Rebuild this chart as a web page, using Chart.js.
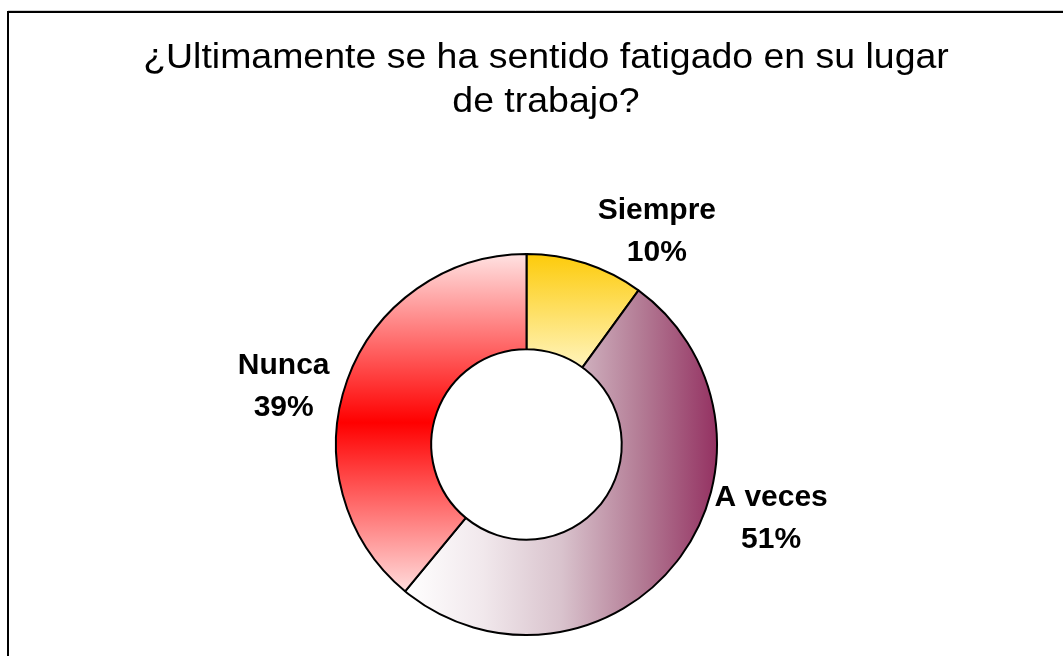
<!DOCTYPE html>
<html>
<head>
<meta charset="utf-8">
<script src="https://cdn.jsdelivr.net/npm/chart.js@4/dist/chart.umd.min.js"></script>
<style>
  html, body { margin: 0; padding: 0; background: #ffffff; }
  #wrap { width: 1063px; height: 656px; position: relative; }
</style>
</head>
<body>
<div id="wrap"><canvas id="c" width="1063" height="656"></canvas></div>
<script>
// ---- data ----
const titleLines = ['¿Ultimamente se ha sentido fatigado en su lugar', 'de trabajo?'];
const categories = ['Siempre', 'A veces', 'Nunca'];
const values = [10, 51, 39];
const percentLabels = ['10%', '51%', '39%'];

// ---- styling ----
const gradientStops = [
  { dir: 'v', stops: [[0, '#FDCB0A'], [1, '#FFF4BC']] },
  { dir: 'h', stops: [[0, '#FFFFFF'], [0.25, '#F1E8EC'], [0.5, '#D9C3CD'], [0.75, '#B47D96'], [1, '#943262']] },
  { dir: 'v', stops: [[0, '#FFE2E2'], [0.5, '#FF0000'], [1, '#FFDCDC']] }
];
const labelNudgeDeg = [13.5, -21, -6.5];
const labelGap = [59, 65, 59];

function sliceAngles(i) {
  const total = values.reduce((a, b) => a + b, 0);
  let start = -Math.PI / 2;
  for (let k = 0; k < i; k++) start += values[k] / total * Math.PI * 2;
  const end = start + values[i] / total * Math.PI * 2;
  return [start, end];
}

function sliceGradient(ctx) {
  const chart = ctx.chart;
  const area = chart.chartArea;
  const i = ctx.dataIndex;
  const spec = gradientStops[i];
  if (!area) return spec.stops[0][1];
  const ctrl = chart.getDatasetMeta(0).controller;
  const R = ctrl.outerRadius || Math.min(area.width, area.height) / 2;
  const r = ctrl.innerRadius || R / 2;
  const cx = (area.left + area.right) / 2;
  const cy = (area.top + area.bottom) / 2;
  const [a0, a1] = sliceAngles(i);
  let minX = Infinity, maxX = -Infinity, minY = Infinity, maxY = -Infinity;
  for (let s = 0; s <= 200; s++) {
    const a = a0 + (a1 - a0) * s / 200;
    for (const rad of [R, r]) {
      const x = cx + rad * Math.cos(a), y = cy + rad * Math.sin(a);
      minX = Math.min(minX, x); maxX = Math.max(maxX, x);
      minY = Math.min(minY, y); maxY = Math.max(maxY, y);
    }
  }
  const g = spec.dir === 'v'
    ? chart.ctx.createLinearGradient(0, minY, 0, maxY)
    : chart.ctx.createLinearGradient(minX, 0, maxX, 0);
  spec.stops.forEach(([o, c]) => g.addColorStop(o, c));
  return g;
}

const framePlugin = {
  id: 'frameAndTitle',
  beforeDraw(chart) {
    const c = chart.ctx;
    c.save();
    c.fillStyle = '#ffffff';
    c.fillRect(0, 0, chart.width, chart.height);
    c.strokeStyle = '#d0d0d0';
    c.lineWidth = 1;
    c.beginPath(); c.moveTo(8, 10.5); c.lineTo(chart.width, 10.5); c.stroke();
    c.strokeStyle = '#000000';
    c.lineWidth = 2;
    c.beginPath();
    c.moveTo(8, chart.height); c.lineTo(8, 12); c.lineTo(chart.width, 12);
    c.stroke();
    // title
    c.fillStyle = '#000000';
    c.font = '35px "Liberation Sans", Arial, sans-serif';
    c.textAlign = 'center';
    c.textBaseline = 'alphabetic';
    const baselines = [68, 112];
    titleLines.forEach((t, k) => {
      c.save();
      c.translate(546, baselines[k]);
      c.scale(1.07, 1);
      c.fillText(t, 0, 0);
      c.restore();
    });
    c.restore();
  }
};

const labelPlugin = {
  id: 'sliceLabels',
  afterDatasetsDraw(chart) {
    const c = chart.ctx;
    const meta = chart.getDatasetMeta(0);
    c.save();
    c.fillStyle = '#000000';
    c.font = 'bold 30px "Liberation Sans", Arial, sans-serif';
    c.textAlign = 'center';
    c.textBaseline = 'middle';
    meta.data.forEach((arc, i) => {
      const p = arc.getProps(['x', 'y', 'startAngle', 'endAngle', 'outerRadius'], true);
      const mid = (p.startAngle + p.endAngle) / 2 + labelNudgeDeg[i] * Math.PI / 180;
      const d = p.outerRadius + labelGap[i];
      const x = p.x + d * Math.cos(mid);
      const y = p.y + d * Math.sin(mid);
      c.fillText(categories[i], x, y - 21);
      c.fillText(percentLabels[i], x, y + 21);
    });
    c.restore();
  }
};

new Chart(document.getElementById('c'), {
  type: 'doughnut',
  data: {
    labels: categories,
    datasets: [{
      data: values,
      backgroundColor: sliceGradient,
      borderColor: '#000000',
      borderWidth: 2,
      hoverOffset: 0
    }]
  },
  options: {
    responsive: false,
    animation: false,
    cutout: '50%',
    layout: { padding: { top: 253, bottom: 20, left: 335, right: 345 } },
    plugins: {
      legend: { display: false },
      title: { display: false },
      tooltip: { enabled: false }
    }
  },
  plugins: [framePlugin, labelPlugin]
});
</script>
</body>
</html>
